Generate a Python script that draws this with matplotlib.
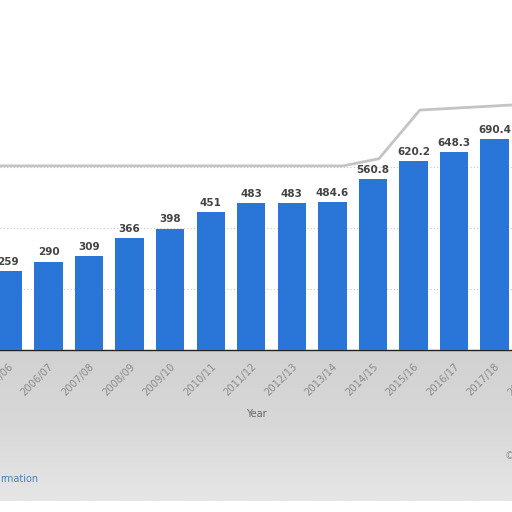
import matplotlib
matplotlib.use("Agg")
import matplotlib.pyplot as plt
import numpy as np
from matplotlib.lines import Line2D

years = ["2005/06", "2006/07", "2007/08", "2008/09", "2009/10", "2010/11", "2011/12",
         "2012/13", "2013/14", "2014/15", "2015/16", "2016/17", "2017/18", "2018/19"]
values = [259, 290, 309, 366, 398, 451, 483, 483, 484.6, 560.8, 620.2, 648.3, 690.4]

BAR = "#2a76d8"

fig = plt.figure(figsize=(5.12, 5.12), dpi=100)
fig.patch.set_facecolor("white")

# blurred gray band below the axis (vertical gradient)
bg = fig.add_axes([0, 0.022, 1, 0.294], zorder=-10)
grad = np.linspace(0, 1, 64)[:, None] * np.ones((1, 8))
bg.imshow(grad, aspect="auto", cmap=matplotlib.colors.LinearSegmentedColormap.from_list(
    "g", ["#d2d2d2", "#d8d8d8", "#e6e6e6"]), extent=[0, 1, 0, 1], origin="upper")
bg.axis("off")

# faint frame line at top
fig.lines.append(Line2D([0, 0.67, 0.74, 0.82, 1.0], [0.676, 0.676, 0.69, 0.785, 0.795],
                        transform=fig.transFigure, color="#c4c4c4", lw=2.0, zorder=-3))

ax = fig.add_axes([0, 0.3164, 1, 0.4766])
ax.set_facecolor("none")
x = list(range(len(values)))
ax.bar(x, values, width=0.7, color=BAR, zorder=3)
for xi, v in zip(x, values):
    ax.annotate(f"{v:g}", (xi, v), xytext=(0, 3), textcoords="offset points",
                ha="center", va="bottom", fontsize=7.5, fontweight="bold",
                color="#444444", zorder=4)

ax.set_xticks(range(len(years)))
ax.set_xticklabels(years, rotation=45, ha="right", rotation_mode="anchor",
                   fontsize=7.2, color="#8a8a8a")
ax.set_xlim(-0.197, 12.43)
# tick labels whose ticks fall just outside the visible range
for i, lab in enumerate(years):
    if i > 12.43:
        ax.annotate(lab, (i, 0), xytext=(0, -8), textcoords="offset points",
                    rotation=45, ha="right", va="top", rotation_mode="anchor",
                    fontsize=7.2, color="#8a8a8a", annotation_clip=False)
ax.set_ylim(0, 800)
ax.set_yticks([200, 400, 600])
ax.yaxis.grid(True, linestyle=(0, (1, 2)), color="#c8c8c8", lw=0.8, zorder=0)
ax.tick_params(axis="y", left=False, labelleft=False)
ax.tick_params(axis="x", length=0, pad=8)
for s in ["top", "left", "right"]:
    ax.spines[s].set_visible(False)
ax.spines["bottom"].set_color("#222222")
ax.spines["bottom"].set_linewidth(1.0)
ax.set_xlabel("Year", fontsize=7, color="#666666", labelpad=8)

fig.text(0.0, 1 - 479 / 512, "rmation", fontsize=7, color="#4a80b8", ha="left", va="center")
fig.text(0.995, 1 - 456 / 512, "©", fontsize=7, color="#999999", ha="center", va="center")

fig.savefig("out.png", dpi=100)
